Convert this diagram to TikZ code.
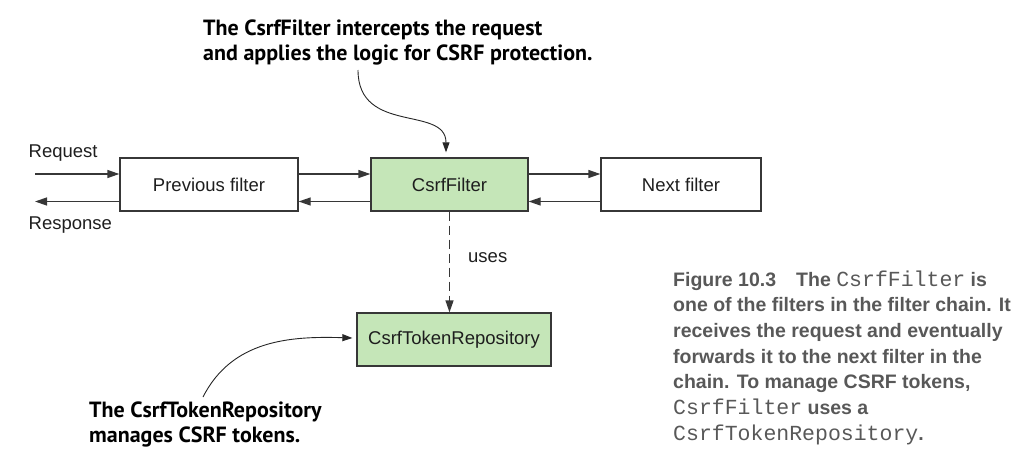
\documentclass[tikz,border=0pt]{standalone}
\usepackage{fontspec}
\setmainfont{Liberation Sans}
\newfontfamily\annfont{PT Sans}
\newfontfamily\capfont{Liberation Sans}
\newfontfamily\capmono{Liberation Mono}
\usetikzlibrary{arrows.meta}
\definecolor{boxgreen}{RGB}{197,230,184}
\definecolor{linegray}{RGB}{55,55,55}
\definecolor{capgray}{RGB}{88,88,88}
\definecolor{txtgray}{RGB}{30,30,30}
\newcommand{\cm}[1]{{\capmono\mdseries\fontsize{21.5}{26}\selectfont #1}}
\begin{document}
\begin{tikzpicture}[x=1pt,y=-1pt,
  filterbox/.style={draw=linegray, line width=1.3pt, inner sep=0pt, minimum height=53pt,
    font=\fontsize{18.5}{22}\selectfont, text=txtgray},
  greenbox/.style={filterbox, fill=boxgreen},
  arr/.style={draw=linegray, line width=1.3pt, -{Triangle[length=12pt,width=8pt]}},
  dasharr/.style={arr, dash pattern=on 9pt off 5pt},
  notearr/.style={draw=black!85, line width=0.9pt, -{Triangle[length=10pt,width=7pt]}},
  lbl/.style={anchor=base west, inner sep=0pt, font=\fontsize{18.5}{22}\selectfont, text=txtgray},
  ann/.style={anchor=base west, inner sep=0pt, font=\annfont\bfseries\fontsize{22}{25}\selectfont, text=black},
  captext/.style={anchor=base west, inner sep=0pt, font=\capfont\bfseries\fontsize{19.5}{26}\selectfont, text=capgray}
]
\useasboundingbox (0,0) rectangle (1032,471);

% boxes
\node[filterbox, minimum width=178pt] (prev) at (209,184.5) {Previous filter};
\node[greenbox, minimum width=157pt] (csrf) at (449.5,184.5) {CsrfFilter};
\node[filterbox, minimum width=160pt] (next) at (681,184.5) {Next filter};
\node[greenbox, minimum width=194pt] (repo) at (454,339.5) {CsrfTokenRepository};

% labels
\node[lbl] (req) at (28.5,157.5) {Request};
\node[lbl] (res) at (28.5,229) {Response};
\node[lbl] (uses) at (468,262) {uses};

% request / response
\coordinate (reqin) at (35,174);
\coordinate (resout) at (35,201.5);
\draw[arr] (reqin) -- (prev.west |- reqin);
\draw[arr] (prev.west |- resout) -- (resout);

% chain arrows
\draw[arr] ([yshift=10.5pt]prev.east) -- ([yshift=10.5pt]csrf.west);
\draw[arr] ([yshift=-17pt]csrf.west) -- ([yshift=-17pt]prev.east);
\draw[arr] ([yshift=10.5pt]csrf.east) -- ([yshift=10.5pt]next.west);
\draw[arr] ([yshift=-17pt]next.west) -- ([yshift=-17pt]csrf.east);

% uses
\draw[dasharr] (csrf.south) -- (csrf.south |- repo.north);

% annotations
\node[ann] (ann1a) at (203,35) {The CsrfFilter intercepts the request};
\node[ann] (ann1b) at (203,60.5) {and applies the logic for CSRF protection.};
\node[ann] (ann2a) at (89,417.5) {The CsrfTokenRepository};
\node[ann] (ann2b) at (89,442) {manages CSRF tokens.};

\coordinate (topstart) at (358,70);
\coordinate (botstart) at (203,397);
\draw[notearr] (topstart) .. controls (358,135) and (446,105) .. ([xshift=-3.5pt,yshift=5pt]csrf.north);
\draw[notearr] (botstart) .. controls (232,340) and (290,336) .. ([xshift=-4pt,yshift=1.5pt]repo.west);

% caption
\node[captext] (c1a) at (673,286) {Figure 10.3};
\node[captext] (c1b) at (796,286) {The \cm{CsrfFilter} is};
\node[captext] (c2) at (673,311.7) {one of the filters in the filter chain. It};
\node[captext] (c3) at (673,337.3) {receives the request and eventually};
\node[captext] (c4) at (673,363) {forwards it to the next filter in the};
\node[captext] (c5) at (673,388.7) {chain. To manage CSRF tokens,};
\node[captext] (c6) at (673,414.3) {\cm{CsrfFilter} uses a};
\node[captext] (c7) at (673,440) {\cm{CsrfTokenRepository}.};
\end{tikzpicture}
\end{document}
